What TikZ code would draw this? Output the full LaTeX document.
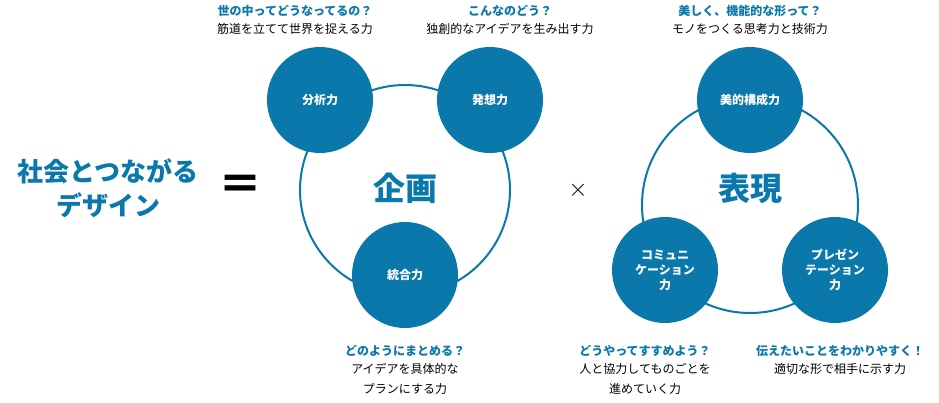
\documentclass[tikz,border=0pt]{standalone}
\usepackage{fontspec}
\usetikzlibrary{positioning}
\newfontfamily\jp{Noto Sans CJK JP}
\definecolor{dblue}{RGB}{11,120,172}
\tikzset{
  skill/.style={circle,fill=dblue,minimum size=106pt,inner sep=0pt,text=white,font=\jp\bfseries\fontsize{12}{15}\selectfont,align=center},
  ring/.style={draw=dblue,line width=2pt},
  ask/.style={text=dblue,font=\jp\bfseries\fontsize{12}{15}\selectfont},
  note/.style={font=\jp\fontsize{12}{20}\selectfont,align=center},
  big/.style={text=dblue,font=\jp\bfseries\fontsize{32}{36}\selectfont}
}
\begin{document}
\begin{tikzpicture}[x=1pt,y=-1pt]
\useasboundingbox (0,0) rectangle (939,402);
% left side
\node[text=dblue,font=\jp\bfseries\fontsize{26}{34}\selectfont,align=center] (title) at (108,188) {社会とつながる\\デザイン};
\node[font=\jp\bfseries\fontsize{44}{44}\selectfont] (eq) at (240,188) {＝};
% planning
\draw[ring] (405,190) circle (105);
\node[big] (plan) at (405,188) {企画};
\node[skill] (anl) at (320,100) {分析力};
\node[skill] (idea) at (490,100) {発想力};
\node[skill] (intg) at (405,275) {統合力};
\node[font=\fontsize{50}{50}\selectfont] (times) at (578,190) {$\times$};
% expression
\draw[ring] (750,205) circle (108);
\node[big] (expr) at (750,188) {表現};
\node[skill] (aes) at (750,100) {美的構成力};
\node[skill] (comm) at (665,270) {コミュニ\\ケーション\\力};
\node[skill] (pres) at (835,270) {プレゼン\\テーション\\力};
% captions
\node[ask] (q1) at (295,11) {世の中ってどうなってるの？};
\node[note,below=0pt of q1] {筋道を立てて世界を捉える力};
\node[ask] (q2) at (510,11) {こんなのどう？};
\node[note,below=0pt of q2] {独創的なアイデアを生み出す力};
\node[ask] (q3) at (750,11) {美しく、機能的な形って？};
\node[note,below=0pt of q3] {モノをつくる思考力と技術力};
\node[ask] (q4) at (405,351) {どのようにまとめる？};
\node[note,below=0pt of q4] {アイデアを具体的な\\プランにする力};
\node[ask] (q5) at (645,351) {どうやってすすめよう？};
\node[note,below=0pt of q5] {人と協力してものごとを\\進めていく力};
\node[ask] (q6) at (840,351) {伝えたいことをわかりやすく！};
\node[note,below=0pt of q6] {適切な形で相手に示す力};
\end{tikzpicture}
\end{document}
